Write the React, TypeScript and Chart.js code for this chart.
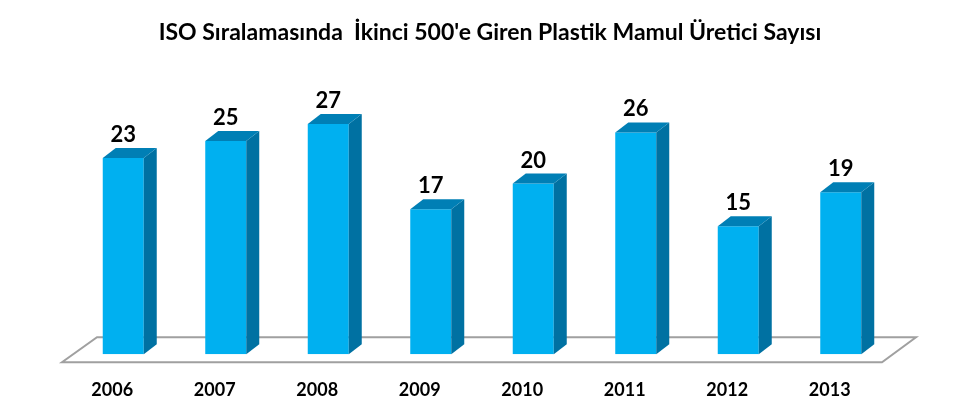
import React, { useEffect, useRef } from "react";
import { Chart, registerables } from "chart.js";
Chart.register(...registerables);

const categories = ["2006", "2007", "2008", "2009", "2010", "2011", "2012", "2013"];
const values = [23, 25, 27, 17, 20, 26, 15, 19];
const titleText = "ISO Sıralamasında  İkinci 500'e Giren Plastik Mamul Üretici Sayısı";

const FONT = "Lato, 'Open Sans', sans-serif";
const FRONT = "#00b0f0";
const SIDE = "#0071a2";
const TOP = "#007fb5";
const DX = 13;
const DY = 10;

const bar3d = {
  id: "bar3d",
  beforeDatasetsDraw(chart: any) {
    const { ctx, chartArea } = chart;
    const y0 = chart.scales.y.getPixelForValue(0);
    const l = chartArea.left;
    const r = chartArea.right;
    ctx.save();
    ctx.beginPath();
    ctx.moveTo(l - 10, y0 + 8);
    ctx.lineTo(r - 10, y0 + 8);
    ctx.lineTo(r + 24, y0 - 17);
    ctx.lineTo(l + 25, y0 - 17);
    ctx.closePath();
    ctx.fillStyle = "#ffffff";
    ctx.fill();
    ctx.lineWidth = 2;
    ctx.strokeStyle = "#a0a0a0";
    ctx.stroke();
    ctx.restore();
  },
  afterDatasetsDraw(chart: any) {
    const { ctx } = chart;
    const meta = chart.getDatasetMeta(0);
    ctx.save();
    meta.data.forEach((bar: any, i: number) => {
      const { x, y, base, width } = bar.getProps(["x", "y", "base", "width"], true);
      const left = x - width / 2;
      const right = x + width / 2;
      ctx.beginPath();
      ctx.moveTo(right, y);
      ctx.lineTo(right + DX, y - DY);
      ctx.lineTo(right + DX, base - DY);
      ctx.lineTo(right, base);
      ctx.closePath();
      ctx.fillStyle = SIDE;
      ctx.fill();
      ctx.beginPath();
      ctx.moveTo(left, y);
      ctx.lineTo(right, y);
      ctx.lineTo(right + DX, y - DY);
      ctx.lineTo(left + DX, y - DY);
      ctx.closePath();
      ctx.fillStyle = TOP;
      ctx.fill();
      ctx.fillStyle = "#000000";
      ctx.font = "bold 22px " + FONT;
      ctx.textAlign = "center";
      ctx.textBaseline = "alphabetic";
      ctx.fillText(String(values[i]), x, y - DY - 6);
    });
    ctx.restore();
  },
  afterDraw(chart: any) {
    const { ctx } = chart;
    ctx.save();
    ctx.fillStyle = "#000000";
    ctx.font = "bold 23px " + FONT;
    ctx.textAlign = "center";
    ctx.textBaseline = "middle";
    ctx.fillText(titleText, chart.width / 2, 33);
    ctx.restore();
  },
};

export default function App() {
  const ref = useRef<HTMLCanvasElement>(null);
  useEffect(() => {
    if (!ref.current) return;
    const chart = new Chart(ref.current, {
      type: "bar",
      data: {
        labels: categories,
        datasets: [
          {
            data: values,
            backgroundColor: FRONT,
            borderWidth: 0,
            barPercentage: 0.4,
            categoryPercentage: 1,
          },
        ],
      },
      options: {
        responsive: false,
        animation: false,
        layout: { padding: { left: 72, right: 88, top: 96.6, bottom: -8 } },
        plugins: {
          legend: { display: false },
          tooltip: { enabled: false },
          title: { display: false },
        },
        scales: {
          x: {
            grid: { display: false, drawTicks: false },
            border: { display: false },
            ticks: {
              color: "#000000",
              font: { family: FONT, size: 18, weight: "bold", lineHeight: 1.1 },
              padding: 26,
              labelOffset: -11,
            },
          },
          y: { display: false, min: 0, max: 30.2 },
        },
      },
      plugins: [bar3d],
    });
    return () => chart.destroy();
  }, []);
  return (
    <div style={{ position: "absolute", left: 0, top: 0, width: 980, height: 418, background: "#fff" }}>
      <canvas ref={ref} width={980} height={418} style={{ display: "block" }} />
    </div>
  );
}
